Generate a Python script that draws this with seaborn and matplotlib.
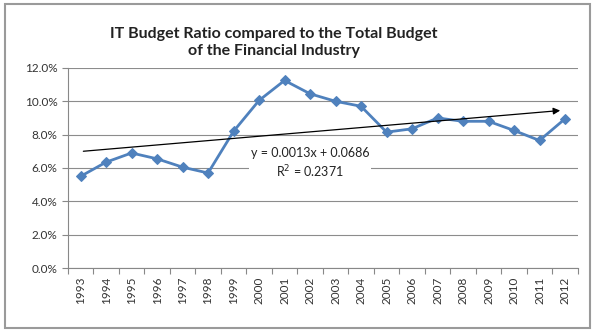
import matplotlib
matplotlib.use("Agg")
import matplotlib.pyplot as plt
import seaborn as sns
import pandas as pd
import numpy as np
from matplotlib.patches import Rectangle
from matplotlib.ticker import FuncFormatter

years = [str(y) for y in range(1993, 2013)]
ratio = [5.5, 6.35, 6.9, 6.55, 6.05, 5.7, 8.2, 10.05, 11.25, 10.45,
         10.0, 9.7, 8.15, 8.35, 9.0, 8.8, 8.8, 8.25, 7.65, 8.95]
slope, intercept = 0.0013, 0.0686
title = "IT Budget Ratio compared to the Total Budget\nof the Financial Industry"

sns.set_theme(style="white")
plt.rcParams['font.family'] = ['Lato', 'DejaVu Sans']

df = pd.DataFrame({"idx": np.arange(len(years)), "ratio": np.array(ratio) / 100})

fig = plt.figure(figsize=(5.95, 3.33), dpi=100)
ax = fig.add_axes([0.114, 0.195, 0.857, 0.601])

sns.lineplot(data=df, x="idx", y="ratio", ax=ax, color="#4F81BD", lw=2,
             marker="D", markersize=5, markeredgecolor="#4F81BD", zorder=3)

# trendline
xs = np.array([1, len(years)])
ys = slope * xs + intercept
ax.annotate("", xy=(xs[1] - 1 - 0.08, ys[1]), xytext=(xs[0] - 1, ys[0]),
            arrowprops=dict(arrowstyle="-|>", color="black", lw=0.9,
                            mutation_scale=10), zorder=4)

ax.text(9.0, 0.0625, "y = 0.0013x + 0.0686\nR$^2$ = 0.2371", ha="center", va="center",
        fontsize=9, color="#222222", linespacing=1.3,
        bbox=dict(facecolor="white", edgecolor="none", pad=1), zorder=2)

ax.set_xlim(-0.5, len(years) - 0.5)
ax.set_ylim(0, 0.12)
ax.set_yticks(np.arange(0, 0.121, 0.02))
ax.yaxis.set_major_formatter(FuncFormatter(lambda v, p: f"{v*100:.1f}%"))
ax.set_xticks(np.arange(len(years)))
ax.set_xticklabels(years, rotation=90, fontsize=8.5, color="#333333")
ax.set_xticks(np.arange(-0.5, len(years)), minor=True)
ax.tick_params(axis="x", which="major", length=0, pad=6)
ax.tick_params(axis="x", which="minor", length=4, color="#888888", width=0.8, bottom=True)
ax.tick_params(axis="y", labelsize=8.5, length=4, left=True, width=0.8, colors="#888888")
for lbl in ax.get_yticklabels():
    lbl.set_color("#333333")
ax.grid(axis="y", color="#8c8c8c", lw=0.8, zorder=0)
ax.set_axisbelow(True)
for s in ["top", "right"]:
    ax.spines[s].set_visible(False)
for s in ["left", "bottom"]:
    ax.spines[s].set_color("#888888")
    ax.spines[s].set_linewidth(0.8)
ax.set_xlabel("")
ax.set_ylabel("")

fig.text(0.46, 0.872, title, ha="center", va="center", fontsize=11.5,
         fontweight="bold", color="#222222", linespacing=1.3)

fig.add_artist(Rectangle((0.008, 0.015), 0.984, 0.972, transform=fig.transFigure,
                         fill=False, edgecolor="#9a9a9a", lw=1.5))

fig.savefig("out.png", dpi=100)
